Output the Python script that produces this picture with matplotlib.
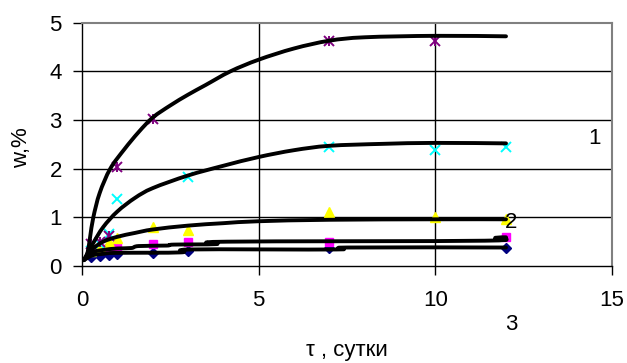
import numpy as np
import matplotlib
matplotlib.use("Agg")
import matplotlib.pyplot as plt
from matplotlib.path import Path
from matplotlib.patches import PathPatch

plt.rcParams.update({
    "font.family": ["Liberation Sans", "DejaVu Sans"],
    "font.size": 16,
    "xtick.direction": "out",
    "ytick.direction": "out",
    "xtick.major.size": 6.5,
    "ytick.major.size": 6.5,
})

nan = np.nan

# measured points (time in days, moisture %)
tau = [0.25, 0.5, 0.75, 1, 2, 3, 7, 10, 12]
w_s1 = [0.18, 0.20, 0.22, 0.24, 0.27, 0.30, 0.38, nan, 0.37]
w_s2 = [0.30, 0.35, 0.38, 0.40, 0.46, 0.49, 0.50, nan, 0.59]
w_s3 = [0.30, 0.40, 0.50, 0.58, 0.80, 0.73, 1.10, 1.00, 0.97]
w_s4 = [0.30, 0.45, 0.65, 1.38, nan, 1.82, 2.44, 2.38, 2.45]
w_s5 = [0.45, 0.50, 0.62, 2.03, 3.03, nan, 4.62, 4.62, nan]

# fitted curves
c1_x = [0.05, 0.15, 0.23, 0.32, 0.5, 0.8, 1.2, 1.6, 2.0, 2.5, 3.0, 3.5, 4.2, 5.0, 6.0, 7.0, 8.0, 10, 12]
c1_y = [0.12, 0.25, 0.6, 1.0, 1.5, 2.0, 2.4, 2.75, 3.05, 3.3, 3.52, 3.72, 4.0, 4.24, 4.47, 4.63, 4.70, 4.73, 4.72]
c2_x = [0.05, 0.3, 0.6, 1.0, 1.5, 2.0, 3.0, 4.0, 5.0, 6.0, 7.0, 8.5, 10, 12]
c2_y = [0.12, 0.45, 0.8, 1.12, 1.4, 1.6, 1.86, 2.06, 2.24, 2.38, 2.47, 2.51, 2.53, 2.52]
c3_x = [0.05, 0.3, 0.6, 1, 1.5, 2, 3, 4, 5, 7, 10, 12]
c3_y = [0.12, 0.35, 0.5, 0.6, 0.68, 0.75, 0.83, 0.88, 0.92, 0.95, 0.96, 0.96]
c4_x = [0.05, 0.3, 0.6, 1, 1.4, 1.6, 2.4, 2.6, 3.8, 4.1, 11.4, 11.7, 12]
c4_y = [0.12, 0.28, 0.33, 0.36, 0.37, 0.41, 0.42, 0.44, 0.45, 0.5, 0.52, 0.58, 0.59]
c5_x = [0.05, 0.3, 0.6, 1, 2.8, 3.1, 7.2, 7.5, 12]
c5_y = [0.12, 0.22, 0.25, 0.27, 0.28, 0.34, 0.34, 0.38, 0.38]


def smooth_path(xs, ys, t=1 / 6):
    # Excel-style smoothed line: cubic Bezier segments through the points
    p = np.column_stack([xs, ys])
    verts = [p[0]]
    codes = [Path.MOVETO]
    n = len(p)
    for i in range(n - 1):
        p0 = p[i - 1] if i > 0 else p[i]
        p3 = p[i + 2] if i + 2 < n else p[i + 1]
        c1 = p[i] + (p[i + 1] - p0) * t
        c2 = p[i + 1] - (p3 - p[i]) * t
        verts += [c1, c2, p[i + 1]]
        codes += [Path.CURVE4] * 3
    return Path(verts, codes)


fig = plt.figure(figsize=(6.27, 3.63), dpi=100)
ax = fig.add_axes([0.1308, 0.2672, 0.8453, 0.6703])

for v in [5, 10]:
    ax.axvline(v, color="black", lw=1.0, zorder=1)
for v in [1, 2, 3, 4]:
    ax.axhline(v, color="black", lw=1.0, zorder=1)

ms = 5.5
ax.plot(tau, w_s1, ls="none", marker="D", ms=ms, color="#000080", zorder=3)
ax.plot(tau, w_s2, ls="none", marker="s", ms=ms, color="#ff00ff", zorder=3)
ax.plot(tau, w_s3, ls="none", marker="^", ms=ms + 1, color="#ffff00", zorder=3)
ax.plot(tau, w_s4, ls="none", marker="x", ms=ms + 1, mew=1.4, color="#00ffff", zorder=3)
ax.plot(tau, w_s5, ls="none", marker="x", ms=ms + 1, mew=1.4, color="#800080", zorder=3)
ax.plot(tau, w_s5, ls="none", marker="|", ms=ms + 1, mew=1.4, color="#800080", zorder=3)

for cx, cy in [(c1_x, c1_y), (c2_x, c2_y), (c3_x, c3_y), (c4_x, c4_y), (c5_x, c5_y)]:
    ax.add_patch(PathPatch(smooth_path(cx, cy), fc="none", ec="black", lw=2.8,
                           capstyle="round", joinstyle="round", zorder=4))

ax.set_xlim(0, 15)
ax.set_ylim(0, 5)
ax.set_xticks([0, 5, 10, 15])
ax.set_yticks([0, 1, 2, 3, 4, 5])
ax.tick_params(axis="x", pad=11, width=1.0)
ax.tick_params(axis="y", pad=8, width=1.0)

for s in ["left", "bottom"]:
    ax.spines[s].set_color("black")
    ax.spines[s].set_linewidth(1.0)
for s in ["top", "right"]:
    ax.spines[s].set_color("#808080")
    ax.spines[s].set_linewidth(1.5)

ax.set_xlabel("τ , сутки")
ax.xaxis.set_label_coords(0.5, -0.305)
ax.set_ylabel("w,%")
ax.yaxis.set_label_coords(-0.095, 0.485)

ax.text(14.5, 2.62, "1", ha="center", va="center", clip_on=False)
ax.text(12.15, 0.9, "2", ha="center", va="center", clip_on=False)
ax.text(12.15, -1.2, "3", ha="center", va="center", clip_on=False)

fig.savefig("out.png", dpi=100)
